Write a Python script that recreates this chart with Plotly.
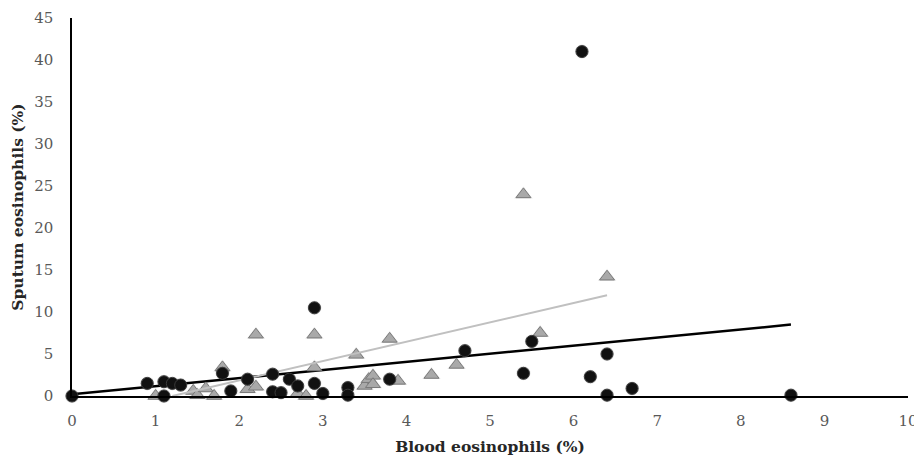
import plotly.graph_objects as go

# Black circles series
circle_x = [0, 0.9, 1.1, 1.1, 1.2, 1.3, 1.8, 1.9, 2.1, 2.4, 2.4, 2.5, 2.6, 2.7, 2.9, 2.9,
            3.0, 3.3, 3.3, 3.8, 4.7, 5.4, 5.5, 6.1, 6.2, 6.4, 6.4, 6.7, 8.6]
circle_y = [0, 1.5, 1.7, 0.0, 1.5, 1.3, 2.7, 0.6, 2.0, 2.6, 0.5, 0.4, 2.0, 1.2, 1.5, 10.5,
            0.3, 1.0, 0.1, 2.0, 5.4, 2.7, 6.5, 41.0, 2.3, 5.0, 0.1, 0.9, 0.1]

# Grey triangles series
tri_x = [1.0, 1.45, 1.5, 1.6, 1.7, 1.8, 2.1, 2.2, 2.2, 2.7, 2.8, 2.9, 2.9, 3.4, 3.5,
         3.55, 3.6, 3.6, 3.8, 3.9, 4.3, 4.6, 5.4, 5.6, 6.4]
tri_y = [0.0, 0.6, 0.1, 0.9, 0.0, 3.4, 0.8, 1.1, 7.3, 0.3, 0.0, 3.4, 7.3, 4.9, 1.2,
         2.0, 2.4, 1.4, 6.8, 1.8, 2.5, 3.7, 24.0, 7.5, 14.2]

# Linear trend lines (endpoints)
trend_black_x = [0, 8.6]
trend_black_y = [0.2, 8.5]
trend_grey_x = [1.2, 6.4]
trend_grey_y = [0.0, 12.0]

x_ticks = [0, 1, 2, 3, 4, 5, 6, 7, 8, 9, 10]
y_ticks = [0, 5, 10, 15, 20, 25, 30, 35, 40, 45]

FONT = "DejaVu Serif"

fig = go.Figure()

fig.add_trace(go.Scatter(
    x=trend_black_x, y=trend_black_y, mode="lines",
    line=dict(color="#000000", width=2.5), hoverinfo="skip", showlegend=False))

# soft shadows
fig.add_trace(go.Scatter(
    x=tri_x, y=tri_y, mode="markers", cliponaxis=False,
    marker=dict(symbol="triangle-up", size=16, color="rgba(0,0,0,0.10)", line=dict(width=0)),
    hoverinfo="skip", showlegend=False))
fig.add_trace(go.Scatter(
    x=tri_x, y=tri_y, mode="markers", cliponaxis=False,
    marker=dict(symbol="triangle-up", size=13, color="#a9a9a9",
                line=dict(color="#7a7a7a", width=1)),
    showlegend=False))
fig.add_trace(go.Scatter(
    x=trend_grey_x, y=trend_grey_y, mode="lines",
    line=dict(color="#c0c0c0", width=2), hoverinfo="skip", showlegend=False))
fig.add_trace(go.Scatter(
    x=circle_x, y=circle_y, mode="markers", cliponaxis=False,
    marker=dict(symbol="circle", size=14, color="rgba(0,0,0,0.13)", line=dict(width=0)),
    hoverinfo="skip", showlegend=False))
fig.add_trace(go.Scatter(
    x=circle_x, y=circle_y, mode="markers", cliponaxis=False,
    marker=dict(symbol="circle", size=12, color="#111111",
                line=dict(color="#3a3a3a", width=1)),
    showlegend=False))

fig.update_layout(
    width=914, height=452,
    margin=dict(l=64, r=14, t=10, b=64),
    paper_bgcolor="white", plot_bgcolor="white",
    font=dict(family=FONT, color="#595959", size=15),
    xaxis=dict(
        range=[0, 10], tickvals=x_ticks, showgrid=False, zeroline=False,
        showline=True, linecolor="#000000", linewidth=1.5,
        ticks="", ticklabelstandoff=10, automargin=False, ticklabeloverflow="allow",
        tickfont=dict(family=FONT, size=15, color="#595959"),
        title=dict(text="<b>Blood eosinophils (%)</b>",
                   font=dict(family=FONT, size=15.5, color="#262626"), standoff=12),
    ),
    yaxis=dict(
        range=[0, 45], tickvals=y_ticks, showgrid=False, zeroline=False,
        showline=True, linecolor="#000000", linewidth=1.5,
        ticks="", ticklabelstandoff=14, automargin=False, ticklabeloverflow="allow",
        tickfont=dict(family=FONT, size=15, color="#595959"),
        title=dict(text="<b>Sputum eosinophils (%)</b>",
                   font=dict(family=FONT, size=15.5, color="#262626"), standoff=8),
    ),
)

fig.write_html("out.html", default_width="914px", default_height="452px")
